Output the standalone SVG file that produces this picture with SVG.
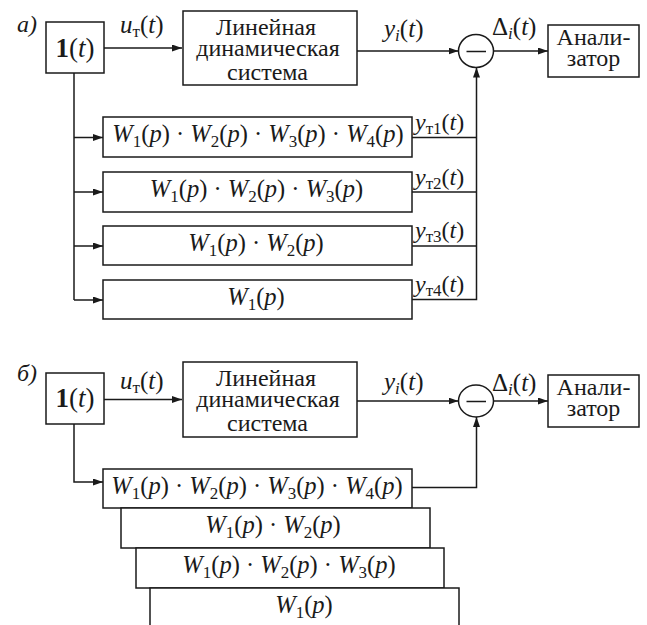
<svg xmlns="http://www.w3.org/2000/svg" width="647" height="625" viewBox="0 0 647 625">
  <defs>
    <marker id="ah" viewBox="0 0 10 7" refX="10" refY="3.5" markerWidth="10" markerHeight="7" markerUnits="userSpaceOnUse" orient="auto">
      <path d="M0,0 L10,3.5 L0,7 z" fill="#1a1a1a"/>
    </marker>
  </defs>
  <style>
    text { font-family: "Liberation Serif", "Times New Roman", serif; fill: #1a1a1a; }
    .box { fill: #fff; stroke: #1a1a1a; stroke-width: 1.5; }
    .ln { fill: none; stroke: #1a1a1a; stroke-width: 1.5; }
    .arr { fill: none; stroke: #1a1a1a; stroke-width: 1.5; marker-end: url(#ah); }
    .i { font-style: italic; }
    .sb { font-size: 17px; }
  </style>

  <!-- connectors of both schemes -->
  <g id="connectors">
    <!-- scheme a -->
    <path class="arr" d="M104,48 H182"/>
    <path class="arr" d="M357,51 H458.5"/>
    <path class="arr" d="M493.5,51 H548"/>
    <path class="ln" d="M74,73 V300"/>
    <path class="arr" d="M74,137.5 H103"/>
    <path class="arr" d="M74,192 H103"/>
    <path class="arr" d="M74,246 H103"/>
    <path class="arr" d="M74,300 H103"/>
    <path class="ln" d="M412,137.5 H476.5"/>
    <path class="ln" d="M412,192 H476.5"/>
    <path class="ln" d="M412,246 H476.5"/>
    <path class="arr" d="M412,299.5 H476.5 V67.5"/>
    <!-- scheme b -->
    <path class="arr" d="M104,399.5 H182"/>
    <path class="arr" d="M357,401 H458.5"/>
    <path class="arr" d="M493.5,401 H548"/>
    <path class="arr" d="M74,424 V482 H103"/>
    <path class="arr" d="M412,487.5 H476.5 V417"/>
  </g>

  <!-- ===== scheme a ===== -->
  <text font-family="Liberation Serif" font-size="24" font-style="italic" x="17" y="32">а)</text>

  <g id="a-step">
    <rect class="box" x="46" y="22" width="58" height="51"/>
    <text font-family="Liberation Serif" font-size="27" text-anchor="middle" x="75" y="57"><tspan font-weight="bold">1</tspan>(<tspan font-style="italic">t</tspan>)</text>
  </g>
  <text font-family="Liberation Serif" font-size="25" x="120" y="33"><tspan class="i">u</tspan><tspan class="sb" dy="4">т</tspan><tspan dy="-4">(</tspan><tspan class="i">t</tspan>)</text>

  <g id="a-system">
    <rect class="box" x="183" y="11" width="174" height="74"/>
    <text font-family="Liberation Serif" font-size="24" text-anchor="middle" x="266" y="34.7">Линейная</text>
    <text font-family="Liberation Serif" font-size="24" text-anchor="middle" x="268" y="56.3">динамическая</text>
    <text font-family="Liberation Serif" font-size="24" text-anchor="middle" x="267.5" y="79.7">система</text>
  </g>
  <text font-family="Liberation Serif" font-size="25" x="384" y="36.5"><tspan class="i">y</tspan><tspan class="sb i" dy="4">i</tspan><tspan dy="-4">(</tspan><tspan class="i">t</tspan>)</text>

  <g id="a-subtract">
    <ellipse class="box" cx="476" cy="51" rx="17.5" ry="16.5"/>
    <path class="ln" d="M466.5,51.5 H486"/>
  </g>
  <text font-family="Liberation Serif" font-size="25" x="492" y="35">Δ<tspan class="sb i" dy="4">i</tspan><tspan dy="-4">(</tspan><tspan class="i">t</tspan>)</text>

  <g id="a-analyzer">
    <rect class="box" x="548" y="25" width="91" height="52"/>
    <text font-family="Liberation Serif" font-size="24" text-anchor="middle" x="593.5" y="45">Анали-</text>
    <text font-family="Liberation Serif" font-size="24" text-anchor="middle" x="593.5" y="66">затор</text>
  </g>

  <g id="a-model1">
    <rect class="box" x="103" y="117" width="309" height="40"/>
    <text font-family="Liberation Serif" font-size="24.5" text-anchor="middle" x="258" y="142"><tspan class="i">W</tspan><tspan class="sb" dy="5">1</tspan><tspan dy="-5">(</tspan><tspan class="i">p</tspan>) · <tspan class="i">W</tspan><tspan class="sb" dy="5">2</tspan><tspan dy="-5">(</tspan><tspan class="i">p</tspan>) · <tspan class="i">W</tspan><tspan class="sb" dy="5">3</tspan><tspan dy="-5">(</tspan><tspan class="i">p</tspan>) · <tspan class="i">W</tspan><tspan class="sb" dy="5">4</tspan><tspan dy="-5">(</tspan><tspan class="i">p</tspan>)</text>
  </g>
  <g id="a-model2">
    <rect class="box" x="103" y="172" width="309" height="40"/>
    <text font-family="Liberation Serif" font-size="24.5" text-anchor="middle" x="256.5" y="197"><tspan class="i">W</tspan><tspan class="sb" dy="5">1</tspan><tspan dy="-5">(</tspan><tspan class="i">p</tspan>) · <tspan class="i">W</tspan><tspan class="sb" dy="5">2</tspan><tspan dy="-5">(</tspan><tspan class="i">p</tspan>) · <tspan class="i">W</tspan><tspan class="sb" dy="5">3</tspan><tspan dy="-5">(</tspan><tspan class="i">p</tspan>)</text>
  </g>
  <g id="a-model3">
    <rect class="box" x="103" y="226" width="309" height="39"/>
    <text font-family="Liberation Serif" font-size="24.5" text-anchor="middle" x="256" y="251"><tspan class="i">W</tspan><tspan class="sb" dy="5">1</tspan><tspan dy="-5">(</tspan><tspan class="i">p</tspan>) · <tspan class="i">W</tspan><tspan class="sb" dy="5">2</tspan><tspan dy="-5">(</tspan><tspan class="i">p</tspan>)</text>
  </g>
  <g id="a-model4">
    <rect class="box" x="103" y="280" width="309" height="39"/>
    <text font-family="Liberation Serif" font-size="24.5" text-anchor="middle" x="256" y="305"><tspan class="i">W</tspan><tspan class="sb" dy="5">1</tspan><tspan dy="-5">(</tspan><tspan class="i">p</tspan>)</text>
  </g>

  <text font-family="Liberation Serif" font-size="24" x="415" y="130"><tspan class="i">y</tspan><tspan class="sb" dy="4">т1</tspan><tspan dy="-4">(</tspan><tspan class="i">t</tspan>)</text>
  <text font-family="Liberation Serif" font-size="24" x="415" y="184.5"><tspan class="i">y</tspan><tspan class="sb" dy="4">т2</tspan><tspan dy="-4">(</tspan><tspan class="i">t</tspan>)</text>
  <text font-family="Liberation Serif" font-size="24" x="415" y="238"><tspan class="i">y</tspan><tspan class="sb" dy="4">т3</tspan><tspan dy="-4">(</tspan><tspan class="i">t</tspan>)</text>
  <text font-family="Liberation Serif" font-size="24" x="415" y="291.5"><tspan class="i">y</tspan><tspan class="sb" dy="4">т4</tspan><tspan dy="-4">(</tspan><tspan class="i">t</tspan>)</text>

  <!-- ===== scheme b ===== -->
  <text font-family="Liberation Serif" font-size="24" font-style="italic" x="17" y="381">б)</text>

  <g id="b-step">
    <rect class="box" x="46" y="373" width="58" height="51"/>
    <text font-family="Liberation Serif" font-size="27" text-anchor="middle" x="75" y="407"><tspan font-weight="bold">1</tspan>(<tspan font-style="italic">t</tspan>)</text>
  </g>
  <text font-family="Liberation Serif" font-size="25" x="120" y="389"><tspan class="i">u</tspan><tspan class="sb" dy="4">т</tspan><tspan dy="-4">(</tspan><tspan class="i">t</tspan>)</text>

  <g id="b-system">
    <rect class="box" x="183" y="362" width="174" height="75"/>
    <text font-family="Liberation Serif" font-size="24" text-anchor="middle" x="266" y="385.7">Линейная</text>
    <text font-family="Liberation Serif" font-size="24" text-anchor="middle" x="268" y="407.3">динамическая</text>
    <text font-family="Liberation Serif" font-size="24" text-anchor="middle" x="267.5" y="430.7">система</text>
  </g>
  <text font-family="Liberation Serif" font-size="25" x="384" y="390"><tspan class="i">y</tspan><tspan class="sb i" dy="4">i</tspan><tspan dy="-4">(</tspan><tspan class="i">t</tspan>)</text>

  <g id="b-subtract">
    <ellipse class="box" cx="476" cy="401" rx="17.5" ry="16"/>
    <path class="ln" d="M466.5,401.5 H486"/>
  </g>
  <text font-family="Liberation Serif" font-size="25" x="492" y="391">Δ<tspan class="sb i" dy="4">i</tspan><tspan dy="-4">(</tspan><tspan class="i">t</tspan>)</text>

  <g id="b-analyzer">
    <rect class="box" x="548" y="375" width="91" height="52"/>
    <text font-family="Liberation Serif" font-size="24" text-anchor="middle" x="593.5" y="395">Анали-</text>
    <text font-family="Liberation Serif" font-size="24" text-anchor="middle" x="593.5" y="416">затор</text>
  </g>

  <!-- stacked model blocks -->
  <g id="b-model1">
    <rect class="box" x="103" y="469" width="309" height="39"/>
    <text font-family="Liberation Serif" font-size="24.5" text-anchor="middle" x="257" y="494"><tspan class="i">W</tspan><tspan class="sb" dy="5">1</tspan><tspan dy="-5">(</tspan><tspan class="i">p</tspan>) · <tspan class="i">W</tspan><tspan class="sb" dy="5">2</tspan><tspan dy="-5">(</tspan><tspan class="i">p</tspan>) · <tspan class="i">W</tspan><tspan class="sb" dy="5">3</tspan><tspan dy="-5">(</tspan><tspan class="i">p</tspan>) · <tspan class="i">W</tspan><tspan class="sb" dy="5">4</tspan><tspan dy="-5">(</tspan><tspan class="i">p</tspan>)</text>
  </g>
  <g id="b-model2">
    <rect class="box" x="121" y="508" width="309" height="40"/>
    <text font-family="Liberation Serif" font-size="24.5" text-anchor="middle" x="273" y="533"><tspan class="i">W</tspan><tspan class="sb" dy="5">1</tspan><tspan dy="-5">(</tspan><tspan class="i">p</tspan>) · <tspan class="i">W</tspan><tspan class="sb" dy="5">2</tspan><tspan dy="-5">(</tspan><tspan class="i">p</tspan>)</text>
  </g>
  <g id="b-model3">
    <rect class="box" x="136" y="548" width="308" height="40"/>
    <text font-family="Liberation Serif" font-size="24.5" text-anchor="middle" x="289" y="573"><tspan class="i">W</tspan><tspan class="sb" dy="5">1</tspan><tspan dy="-5">(</tspan><tspan class="i">p</tspan>) · <tspan class="i">W</tspan><tspan class="sb" dy="5">2</tspan><tspan dy="-5">(</tspan><tspan class="i">p</tspan>) · <tspan class="i">W</tspan><tspan class="sb" dy="5">3</tspan><tspan dy="-5">(</tspan><tspan class="i">p</tspan>)</text>
  </g>
  <g id="b-model4">
    <rect class="box" x="150" y="588" width="309" height="45"/>
    <text font-family="Liberation Serif" font-size="24.5" text-anchor="middle" x="304" y="613"><tspan class="i">W</tspan><tspan class="sb" dy="5">1</tspan><tspan dy="-5">(</tspan><tspan class="i">p</tspan>)</text>
  </g>
</svg>
